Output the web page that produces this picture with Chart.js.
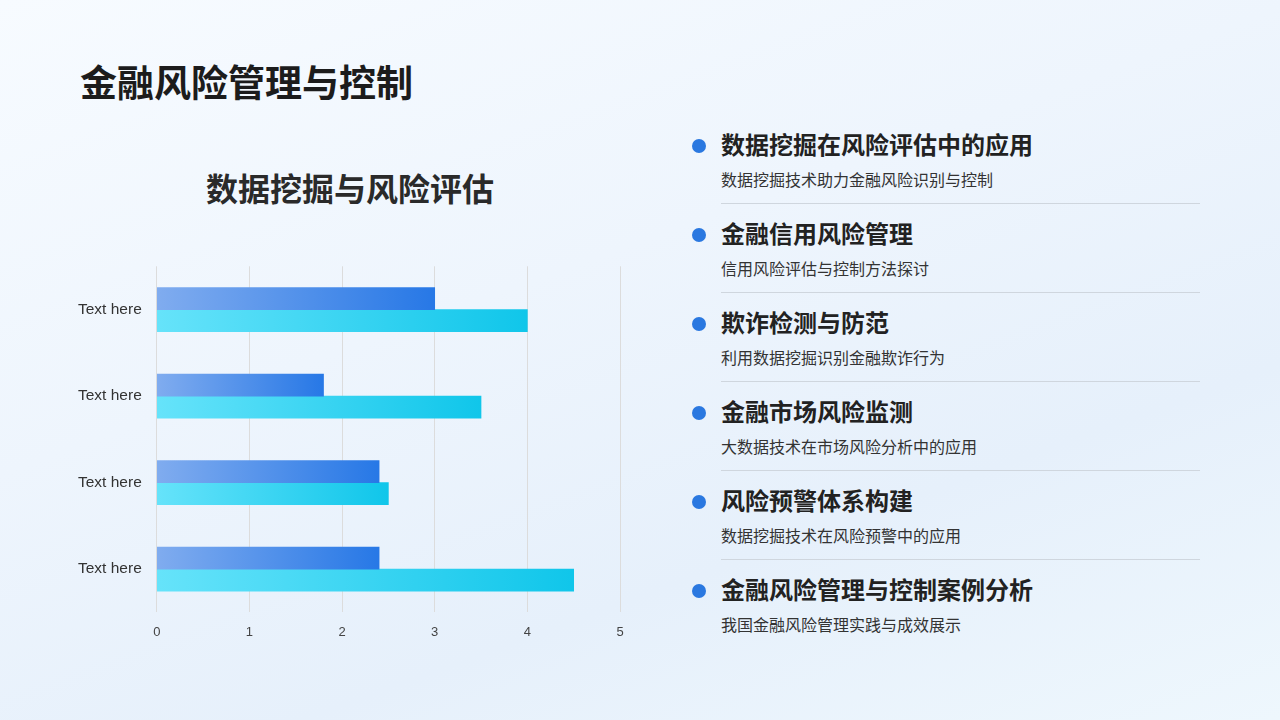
<!DOCTYPE html>
<html><head><meta charset="utf-8">
<script src="https://cdn.jsdelivr.net/npm/chart.js@4/dist/chart.umd.min.js"></script>
<style>
body{margin:0;width:1280px;height:720px;overflow:hidden;font-family:"Noto Sans CJK SC","Noto Sans",sans-serif;
background:linear-gradient(160deg,#f7fbff 0%,#eef5fd 40%,#e6f0fb 70%,#eef7fd 100%);position:relative;color:#222;}
#title{position:absolute;left:80px;top:54px;font-size:37px;font-weight:700;color:#1c1c1c;}
#ctitle{position:absolute;left:150px;top:164px;width:400px;text-align:center;font-size:32px;font-weight:700;color:#2a2a2a;}
#wrap{position:absolute;left:66px;top:250px;width:580px;height:412px;}
.item{position:absolute;left:690px;width:510px;}
.item .dot{position:absolute;left:2px;top:11px;width:14px;height:14px;border-radius:50%;background:#2a78e0;}
.item .h{position:absolute;left:31px;top:-2px;font-size:24px;font-weight:700;color:#222;}
.item .s{position:absolute;left:31px;top:39px;font-size:16px;color:#333;}
.item .l{position:absolute;left:31px;top:75px;width:479px;height:1px;background:#cfd6de;}
</style></head><body>
<div id="title">金融风险管理与控制</div>
<div id="ctitle">数据挖掘与风险评估</div>
<div id="wrap"><canvas id="c"></canvas></div>
<div id="list"></div>
<script>
const categories = ['Text here','Text here','Text here','Text here'];
const series1 = [3, 1.8, 2.4, 2.4];
const series2 = [4, 3.5, 2.5, 4.5];
const tickValues = [0,1,2,3,4,5];
const itemTitles = ['数据挖掘在风险评估中的应用','金融信用风险管理','欺诈检测与防范','金融市场风险监测','风险预警体系构建','金融风险管理与控制案例分析'];
const itemSubs = ['数据挖掘技术助力金融风险识别与控制','信用风险评估与控制方法探讨','利用数据挖掘识别金融欺诈行为','大数据技术在市场风险分析中的应用','数据挖掘技术在风险预警中的应用','我国金融风险管理实践与成效展示'];

let html='';
itemTitles.forEach((t,i)=>{
  html+=`<div class="item" style="top:${128+i*89}px"><div class="dot"></div><div class="h">${t}</div><div class="s">${itemSubs[i]}</div>${i<5?'<div class="l"></div>':''}</div>`;
});
document.getElementById('list').innerHTML=html;

function grad(c1,c2){
  return function(ctx){
    const ch=ctx.chart, a=ch.chartArea;
    if(!a || ctx.raw===undefined) return c2;
    const x1=ch.scales.x.getPixelForValue(ctx.raw);
    const g=ch.ctx.createLinearGradient(a.left,0,Math.max(x1,a.left+1),0);
    g.addColorStop(0,c1); g.addColorStop(1,c2);
    return g;
  };
}
new Chart(document.getElementById('c'),{
  type:'bar',
  data:{labels:categories,datasets:[
    {data:series1,backgroundColor:grad('#80acef','#2778e6'),barThickness:22},
    {data:series2,backgroundColor:grad('#66e3fa','#10c6ea'),barThickness:22}
  ]},
  options:{indexAxis:'y',responsive:true,maintainAspectRatio:false,animation:false,
    layout:{padding:{top:12,right:26,bottom:10,left:5}},
    plugins:{legend:{display:false},tooltip:{enabled:false}},
    scales:{
      x:{min:0,max:5,afterBuildTicks:s=>{s.ticks=tickValues.map(v=>({value:v}));},
        grid:{color:'#dcdcdc',drawTicks:false},border:{display:false},
        ticks:{color:'#444',font:{size:13,family:'Liberation Sans'},padding:12}},
      y:{grid:{display:false},border:{display:false},
        ticks:{color:'#333',font:{size:15.5,family:'Liberation Sans'},padding:7}}
    }
  }
});
</script>
</body></html>
